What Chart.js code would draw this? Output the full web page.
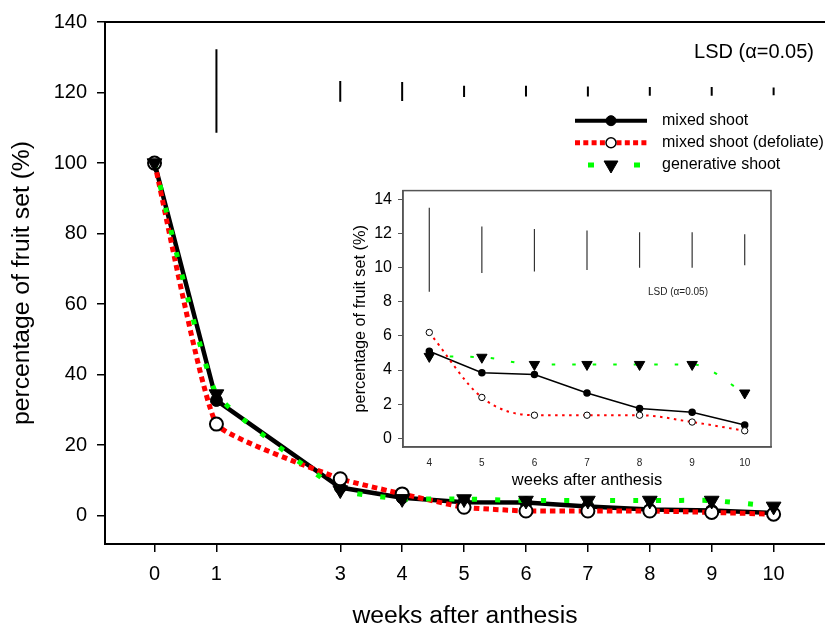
<!DOCTYPE html>
<html lang="en">
<head>
<meta charset="UTF-8">
<title>Fruit set after anthesis</title>
<script src="https://cdn.jsdelivr.net/npm/chart.js"></script>
<style>
  html, body { margin: 0; padding: 0; background: #fff; }
  #wrap { position: relative; width: 825px; height: 630px; }
  #mainChart { position: absolute; left: 0; top: 0; }
  #insetChart { position: absolute; left: 340px; top: 175px; }
</style>
</head>
<body>
<div id="wrap">
  <canvas id="mainChart" width="825" height="630"></canvas>
  <canvas id="insetChart" width="450" height="320"></canvas>
</div>
<script>
// data
const weeks = [0, 1, 3, 4, 5, 6, 7, 8, 9, 10];
const mixedShoot = [100, 32.7, 8.0, 5.1, 3.85, 3.74, 2.66, 1.75, 1.53, 0.79];
const mixedDefoliate = [100, 26, 10.5, 6.2, 2.4, 1.36, 1.36, 1.36, 0.96, 0.45];
const generativeShoot = [100, 34.5, 7.3, 4.8, 4.75, 4.33, 4.33, 4.33, 4.33, 2.66];

const weekTicks = [0, 1, 3, 4, 5, 6, 7, 8, 9, 10];
const pctTicks = [0, 20, 40, 60, 80, 100, 120, 140];

// LSD bars in the main panel
const lsdWeeks = [1, 3, 4, 5, 6, 7, 8, 9, 10];
const lsdLow = [108.6, 117.4, 117.6, 118.75, 118.9, 118.9, 119.1, 119.1, 119.2];
const lsdHigh = [132.3, 123.3, 123.0, 121.9, 121.9, 121.7, 121.6, 121.6, 121.4];

// inset (weeks 4-10)
const insetFrom = 3;
const insetWeekTicks = [4, 5, 6, 7, 8, 9, 10];
const insetPctTicks = [0, 2, 4, 6, 8, 10, 12, 14];
const insetLsdWeeks = [4, 5, 6, 7, 8, 9, 10];
const insetLsdLow = [8.58, 9.68, 9.77, 9.86, 9.99, 9.99, 10.13];
const insetLsdHigh = [13.49, 12.4, 12.26, 12.17, 12.07, 12.07, 11.94];

const FONT = '"Liberation Sans", Arial, Helvetica, sans-serif';
Chart.defaults.font.family = FONT;
Chart.defaults.color = '#000';

function pts(xs, ys) {
  return xs.map((x, i) => ({ x: x, y: ys[i] }));
}
function segs(xs, lo, hi) {
  const out = [];
  xs.forEach((x, i) => {
    out.push({ x: x, y: lo[i] }, { x: x, y: hi[i] }, { x: x, y: null });
  });
  return out;
}

// ---------- main chart ----------
const mainFrame = {
  id: 'mainFrame',
  afterDraw(chart) {
    const { ctx, chartArea } = chart;
    ctx.save();
    ctx.strokeStyle = '#000';
    ctx.lineWidth = 2;
    ctx.beginPath();
    ctx.moveTo(chartArea.left, chartArea.top);
    ctx.lineTo(chartArea.right, chartArea.top);
    ctx.stroke();

    ctx.font = '20px ' + FONT;
    ctx.fillStyle = '#000';
    ctx.textAlign = 'center';
    ctx.textBaseline = 'middle';
    ctx.fillText('LSD (\u03b1=0.05)', 754, 52.5);

    // legend: sample line, marker in the middle, label
    const rows = [
      { ds: 0, y: 120.7, dash: [], off: 0, r: 5 },
      { ds: 1, y: 142.7, dash: [5, 3.3], off: 0, r: 5 },
      { ds: 2, y: 165, dash: [6, 40], off: -13, r: 8 }
    ];
    rows.forEach(row => {
      const d = chart.data.datasets[row.ds];
      ctx.setLineDash(row.dash);
      ctx.lineDashOffset = row.off;
      ctx.strokeStyle = d.borderColor;
      ctx.lineWidth = row.ds === 0 ? 4 : 5;
      ctx.beginPath();
      ctx.moveTo(575, row.y);
      ctx.lineTo(647, row.y);
      ctx.stroke();
      ctx.setLineDash([]);
      ctx.lineDashOffset = 0;
      ctx.fillStyle = d.pointBackgroundColor;
      ctx.strokeStyle = d.pointBorderColor;
      ctx.lineWidth = row.ds === 1 ? 1.5 : 1;
      Chart.helpers.drawPoint(ctx, {
        pointStyle: d.pointStyle || 'circle',
        rotation: d.rotation || 0,
        radius: row.r,
        borderWidth: ctx.lineWidth
      }, 611, row.y);
      ctx.fillStyle = '#000';
      ctx.font = '16px ' + FONT;
      ctx.textAlign = 'left';
      ctx.fillText(d.label, 662, row.y);
    });
    ctx.restore();
  }
};

new Chart(document.getElementById('mainChart'), {
  type: 'line',
  data: {
    datasets: [
      {
        label: 'mixed shoot',
        data: pts(weeks, mixedShoot),
        borderColor: '#000',
        borderWidth: 4.5,
        pointRadius: 6,
        pointBackgroundColor: '#000',
        pointBorderColor: '#000',
        pointBorderWidth: 1,
        order: 3
      },
      {
        label: 'mixed shoot (defoliate)',
        data: pts(weeks, mixedDefoliate),
        borderColor: '#ff0000',
        borderWidth: 5,
        borderDash: [5.5, 4],
        tension: 0.12,
        pointRadius: 6.5,
        pointBackgroundColor: '#fff',
        pointBorderColor: '#000',
        pointBorderWidth: 2,
        order: 2
      },
      {
        label: 'generative shoot',
        data: pts(weeks, generativeShoot),
        borderColor: '#00ff00',
        borderWidth: 5,
        borderDash: [5, 18],
        tension: 0.12,
        pointStyle: 'triangle',
        rotation: 180,
        pointRadius: 8.5,
        pointBackgroundColor: '#000',
        pointBorderColor: '#000',
        pointBorderWidth: 1,
        order: 1
      },
      {
        label: 'LSD',
        data: segs(lsdWeeks, lsdLow, lsdHigh),
        borderColor: '#000',
        borderWidth: 2,
        pointRadius: 0,
        spanGaps: false,
        order: 0
      }
    ]
  },
  options: {
    responsive: false,
    animation: false,
    devicePixelRatio: 1,
    events: [],
    layout: { autoPadding: false, padding: { top: 17.7, left: 0, right: 0, bottom: 0 } },
    plugins: { legend: { display: false }, tooltip: { enabled: false } },
    scales: {
      x: {
        type: 'linear',
        min: -0.8,
        max: 10.83,
        afterBuildTicks: s => { s.ticks = weekTicks.map(v => ({ value: v })); },
        afterFit: s => { s.height = 86; },
        ticks: { font: { size: 20 }, padding: 10, color: '#000', maxRotation: 0, autoSkip: false },
        grid: { drawOnChartArea: false, tickLength: 8, color: '#000', lineWidth: 1.5 },
        border: { color: '#000', width: 2 },
        title: { display: true, text: 'weeks after anthesis', color: '#000',
                 font: { size: 24.7, lineHeight: 1 }, padding: { top: 0, bottom: 1 } }
      },
      y: {
        type: 'linear',
        min: -8,
        max: 140,
        afterBuildTicks: s => { s.ticks = pctTicks.map(v => ({ value: v })); },
        afterFit: s => { s.width = 105; },
        ticks: { font: { size: 20 }, padding: 10, color: '#000' },
        grid: { drawOnChartArea: false, tickLength: 8, color: '#000', lineWidth: 1.5 },
        border: { color: '#000', width: 2 },
        title: { display: true, text: 'percentage of fruit set (%)', color: '#000',
                 font: { size: 24.7, lineHeight: 1 }, padding: { top: 10, bottom: 0 } }
      }
    }
  },
  plugins: [mainFrame]
});

// ---------- inset ----------
const insetFrame = {
  id: 'insetFrame',
  afterDraw(chart) {
    const { ctx, chartArea } = chart;
    ctx.save();
    ctx.strokeStyle = '#555';
    ctx.lineWidth = 1.5;
    ctx.strokeRect(chartArea.left, chartArea.top,
      chartArea.right - chartArea.left, chartArea.bottom - chartArea.top);
    ctx.font = '10px ' + FONT;
    ctx.fillStyle = '#222';
    ctx.textAlign = 'center';
    ctx.textBaseline = 'middle';
    ctx.fillText('LSD (\u03b1=0.05)', 338, 117);
    ctx.restore();
  }
};

new Chart(document.getElementById('insetChart'), {
  type: 'line',
  data: {
    datasets: [
      {
        label: 'mixed shoot',
        data: pts(weeks.slice(insetFrom), mixedShoot.slice(insetFrom)),
        borderColor: '#000',
        borderWidth: 1.5,
        pointRadius: 3,
        pointBackgroundColor: '#000',
        pointBorderColor: '#000',
        order: 3
      },
      {
        label: 'mixed shoot (defoliate)',
        data: pts(weeks.slice(insetFrom), mixedDefoliate.slice(insetFrom)),
        borderColor: '#ff0000',
        borderWidth: 2,
        borderDash: [2.5, 4.5],
        cubicInterpolationMode: 'monotone',
        pointRadius: 3.2,
        pointBackgroundColor: '#fff',
        pointBorderColor: '#000',
        pointBorderWidth: 1,
        order: 2
      },
      {
        label: 'generative shoot',
        data: pts(weeks.slice(insetFrom), generativeShoot.slice(insetFrom)),
        borderColor: '#00ff00',
        borderWidth: 2,
        borderDash: [3.5, 17],
        cubicInterpolationMode: 'monotone',
        pointStyle: 'triangle',
        rotation: 180,
        pointRadius: 6,
        pointBackgroundColor: '#000',
        pointBorderColor: '#000',
        pointBorderWidth: 1,
        order: 1
      },
      {
        label: 'LSD',
        data: segs(insetLsdWeeks, insetLsdLow, insetLsdHigh),
        borderColor: '#333',
        borderWidth: 1.2,
        pointRadius: 0,
        spanGaps: false,
        order: 0
      }
    ]
  },
  options: {
    responsive: false,
    animation: false,
    devicePixelRatio: 1,
    events: [],
    layout: { autoPadding: false, padding: { top: 7, left: 0, right: 19, bottom: 0 } },
    plugins: { legend: { display: false }, tooltip: { enabled: false } },
    scales: {
      x: {
        type: 'linear',
        min: 3.5,
        max: 10.5,
        afterBuildTicks: s => { s.ticks = insetWeekTicks.map(v => ({ value: v })); },
        afterFit: s => { s.height = 48; },
        ticks: { font: { size: 10 }, padding: 10, color: '#222', maxRotation: 0, autoSkip: false },
        grid: { drawOnChartArea: false, drawTicks: false, color: '#555' },
        border: { color: '#555', width: 1.5 },
        title: { display: true, text: 'weeks after anthesis', color: '#000',
                 font: { size: 16.5, lineHeight: 1 }, padding: { top: 0, bottom: 6 } }
      },
      y: {
        type: 'linear',
        min: -0.5,
        max: 14.5,
        afterBuildTicks: s => { s.ticks = insetPctTicks.map(v => ({ value: v })); },
        afterFit: s => { s.width = 63; },
        ticks: { font: { size: 16 }, padding: 6, color: '#000' },
        grid: { drawOnChartArea: false, tickLength: 5, color: '#555', lineWidth: 1 },
        border: { color: '#555', width: 1.5 },
        title: { display: true, text: 'percentage of fruit set (%)', color: '#000',
                 font: { size: 16.3, lineHeight: 1 }, padding: { top: 12, bottom: 0 } }
      }
    }
  },
  plugins: [insetFrame]
});
</script>
</body>
</html>
